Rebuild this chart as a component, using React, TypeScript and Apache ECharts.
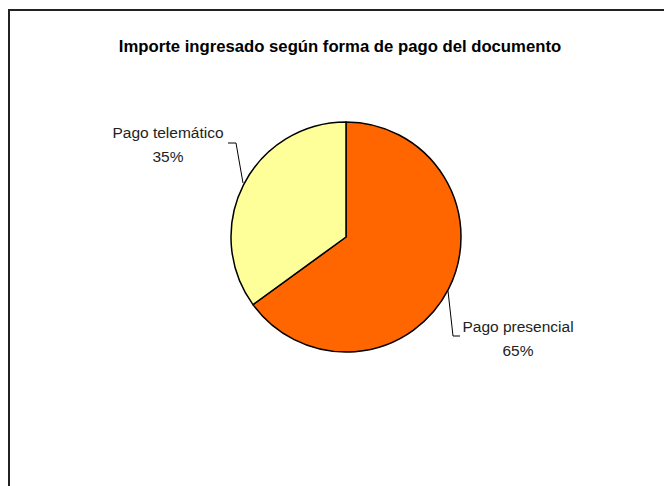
import React, { useEffect, useRef } from "react";
import * as echarts from "echarts";

const title = "Importe ingresado según forma de pago del documento";
const categories = ["Pago presencial", "Pago telemático"];
const values = [65, 35];
const colors = ["#FF6600", "#FFFF99"];

export default function App() {
  const ref = useRef<HTMLDivElement>(null);
  useEffect(() => {
    if (!ref.current) return;
    const chart = echarts.init(ref.current, null, { renderer: "svg" });
    const labelPos: Record<string, { x: number; y: number; pts: number[][] }> = {
      "Pago telemático": { x: 168, y: 144, pts: [[243, 183], [236, 143], [228, 143]] },
      "Pago presencial": { x: 518, y: 338, pts: [[448, 291], [453, 336], [460, 336]] },
    };
    chart.setOption({
      animation: false,
      backgroundColor: "#ffffff",
      title: {
        text: title,
        left: 335,
        top: 33,
        textAlign: "center",
        textStyle: { fontFamily: "Liberation Sans", fontWeight: "bold", fontSize: 16.7, color: "#000" },
      },
      graphic: [
        {
          type: "rect",
          shape: { x: 9, y: 10, width: 700, height: 520 },
          style: { fill: "none", stroke: "#222", lineWidth: 2 },
          silent: true,
        },
      ],
      series: [
        {
          type: "pie",
          center: [346, 237],
          radius: 115,
          startAngle: 90,
          clockwise: true,
          data: categories.map((c, i) => ({ name: c, value: values[i], itemStyle: { color: colors[i] } })),
          itemStyle: { borderColor: "#000", borderWidth: 1.5 },
          label: {
            show: true,
            position: "outside",
            formatter: (p: any) => `${p.name}\n${Math.round(p.percent)}%`,
            fontFamily: "Liberation Sans",
            fontSize: 15.5,
            lineHeight: 24,
            color: "#222",
            align: "center",
          },
          labelLine: { show: true, lineStyle: { color: "#000", width: 1 } },
          labelLayout: (params: any) => {
            const lp = labelPos[categories[params.dataIndex]];
            return {
              x: lp.x,
              y: lp.y,
              align: "center",
              verticalAlign: "middle",
              labelLinePoints: lp.pts,
            };
          },
          emphasis: { disabled: true },
        },
      ],
    });
    return () => chart.dispose();
  }, []);
  return (
    <div
      ref={ref}
      style={{ position: "absolute", left: 0, top: 0, width: 664, height: 486 }}
    />
  );
}
